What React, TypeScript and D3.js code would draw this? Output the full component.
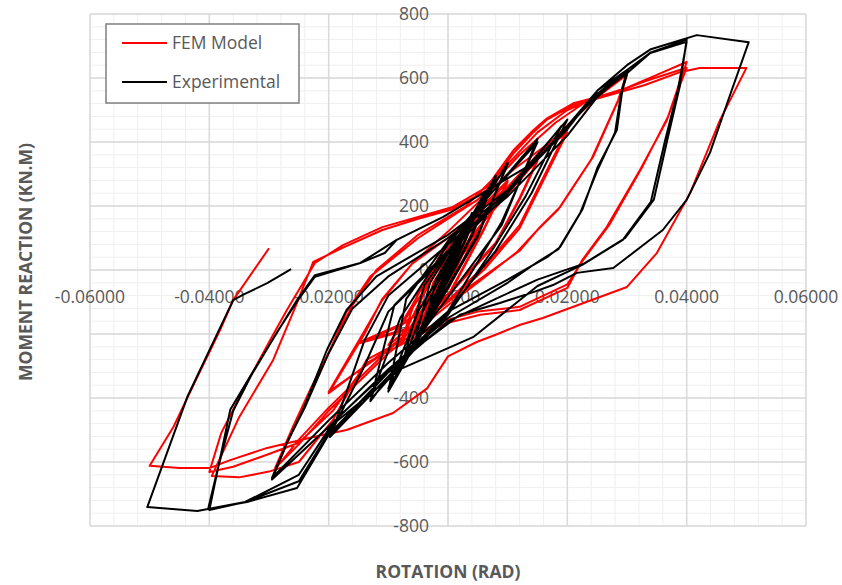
import React, { useEffect, useRef } from "react";
import * as d3 from "d3";

// x ticks (rad) and y ticks (kN.m)
const xTicks = [-0.06, -0.04, -0.02, 0, 0.02, 0.04, 0.06];
const yTicks = [-800, -600, -400, -200, 0, 200, 400, 600, 800];

// FEM model hysteresis path [rotation, moment]
const femPoints: [number, number][] = [
  [0, 0], [0.002, 75], [0.0008, 20], [-0.002, -70], [-0.0008, -15], [0.002, 78], [0.0008, 22], [-0.002, -72],
  [-0.001, -20], [0.001, 50], [0.004, 140], [0.0022, 60], [0, -20], [-0.004, -140], [-0.002, -60], [0, 20], [0.004, 145], [0.002, 55], [-0.004, -145],
  [-0.0025, -40], [0.002, 90], [0.006, 195], [0.0035, 90], [0, -50], [-0.006, -195], [-0.0035, -90], [0, 50], [0.006, 200], [0.0035, 95], [-0.006, -200],
  [-0.004, -60], [0.002, 110], [0.008, 235], [0.005, 120], [0, -60], [-0.008, -225], [-0.005, -110], [0, 70], [0.008, 240], [0.005, 115], [-0.008, -230],
  [-0.005, -70], [0.003, 140], [0.01, 275], [0.006, 130], [0, -80], [-0.01, -235], [-0.006, -110], [0, 90], [0.01, 280], [0.006, 125], [0, -85], [-0.01, -235],
  [-0.006, -120], [0, 50], [0.008, 220], [0.015, 340], [0.012, 220], [0.008, 80], [0, -80], [-0.008, -170], [-0.0147, -225],
  [-0.0064, -181], [-0.002, -60], [0.005, 130], [0.015, 345], [0.012, 225], [0.008, 85], [0, -75], [-0.008, -175], [-0.0147, -228],
  [-0.0064, -185], [0, 0], [0.008, 200], [0.015, 360], [0.02, 430], [0.016, 280], [0.012, 130], [0.006, 0], [0, -100], [-0.01, -250], [-0.02, -381],
  [-0.0142, -197], [-0.011, -94], [-0.006, 20], [0, 120], [0.01, 300], [0.02, 440], [0.016, 290], [0.012, 140], [0.006, 10], [0, -95], [-0.01, -245], [-0.02, -385],
  [-0.014, -200], [-0.011, -90], [-0.006, 20], [0, 100], [0.01, 260], [0.015, 360], [0.021, 470], [0.025, 540], [0.03, 610],
  [0.0288, 541], [0.0243, 353], [0.0188, 197], [0.0154, 134], [0.012, 60], [0.006, -20], [0, -100], [-0.01, -250], [-0.02, -430], [-0.025, -530], [-0.0287, -616],
  [-0.026, -500], [-0.023, -380], [-0.02, -260], [-0.017, -130], [-0.013, -20], [-0.005, 100], [0.005, 220], [0.012, 360], [0.018, 460], [0.025, 550], [0.03, 615],
  [0.0285, 530], [0.024, 345], [0.0185, 190], [0.015, 125], [0.0115, 55], [0.006, -25], [0, -110], [-0.01, -260], [-0.02, -440], [-0.025, -545], [-0.029, -620],
  [-0.026, -490], [-0.023, -370], [-0.0195, -240], [-0.016, -110], [-0.012, 0], [-0.005, 110], [0.003, 200], [0.01, 330], [0.015, 430], [0.02, 500], [0.025, 540], [0.03, 570], [0.035, 610], [0.04, 650],
  [0.0367, 469], [0.0322, 313], [0.0266, 134], [0.0225, 31], [0.02, -56], [0.012, -125], [0.0054, -140], [0, -165], [-0.0035, -190], [-0.0136, -290], [-0.0193, -440], [-0.025, -540], [-0.03, -575], [-0.036, -615], [-0.04, -631],
  [-0.038, -509], [-0.0337, -353], [-0.0298, -219], [-0.027, -125], [-0.0223, 22], [-0.0176, 78], [-0.011, 134], [0.0008, 197], [0.0065, 259], [0.011, 375], [0.0143, 437], [0.0166, 474], [0.021, 521], [0.0277, 553], [0.033, 590], [0.04, 632],
  [0.0369, 480], [0.0325, 320], [0.027, 140], [0.0228, 35], [0.02, -45], [0.012, -115], [0.005, -130], [0, -155], [-0.004, -185], [-0.0136, -280], [-0.0193, -469], [-0.025, -600], [-0.03, -630], [-0.035, -648], [-0.0396, -644],
  [-0.035, -460], [-0.0293, -281], [-0.0253, -103], [-0.0226, 25], [-0.0176, 70], [-0.011, 125], [-0.005, 160], [0.0008, 190], [0.0065, 250], [0.011, 365], [0.0143, 430], [0.0166, 470], [0.021, 515], [0.0277, 550], [0.033, 578], [0.039, 619], [0.0422, 631], [0.05, 631],
  [0.0456, 469], [0.0406, 241], [0.035, 53], [0.03, -53], [0.0159, -150], [0.012, -172], [0.0079, -203], [0.0048, -225], [0, -270], [-0.0035, -370], [-0.0092, -447], [-0.017, -500], [-0.0226, -522], [-0.0303, -556], [-0.0365, -594], [-0.04, -619], [-0.045, -619], [-0.05, -612],
  [-0.046, -490], [-0.042, -334], [-0.0382, -188], [-0.036, -94], [-0.03, 68],
];

// experimental hysteresis path [rotation, moment]
const expPoints: [number, number][] = [
  [0, 0], [0.002, 90], [0.001, 30], [-0.002, -95], [-0.001, -30], [0.002, 92], [0.001, 28], [-0.002, -98],
  [-0.0005, 0], [0.004, 175], [0.002, 80], [-0.004, -180], [-0.002, -80], [0.004, 178], [0.002, 75], [-0.004, -185],
  [-0.002, -30], [0.006, 235], [0.003, 100], [-0.006, -250], [-0.003, -110], [0.006, 240], [0.003, 95], [-0.006, -255],
  [-0.003, -40], [0.008, 290], [0.004, 110], [-0.008, -310], [-0.004, -120], [0.008, 295], [0.004, 105], [-0.008, -315],
  [-0.004, -50], [0.01, 330], [0.005, 110], [-0.01, -370], [-0.005, -130], [0.01, 335], [0.005, 105], [-0.01, -380],
  [-0.007, -90], [0, 90], [0.015, 400], [0.009, 150], [0, -130], [-0.013, -406], [-0.008, -150], [0, 80], [0.015, 410], [0.009, 140], [-0.013, -410],
  [-0.009, -110], [0, 60], [0.01, 250], [0.02, 470], [0.014, 240], [0.008, 60], [0, -130], [-0.01, -320], [-0.0198, -516],
  [-0.014, -300], [-0.01, -130], [0, 50], [0.01, 240], [0.019, 450], [0.013, 230], [0.007, 50], [0, -140], [-0.0198, -522],
  [-0.017, -380], [-0.014, -220], [-0.01, -80], [0, 80], [0.01, 230], [0.02, 420], [0.025, 540], [0.0302, 625],
  [0.0292, 560], [0.0283, 437], [0.0251, 322], [0.0225, 188], [0.0188, 72], [0.0166, 40], [0.01, -30], [0, -130], [-0.01, -290], [-0.02, -470], [-0.0295, -650],
  [-0.027, -540], [-0.0243, -437], [-0.0203, -250], [-0.017, -125], [-0.012, -20], [0, 110], [0.01, 250], [0.02, 440], [0.0251, 562], [0.03, 625],
  [0.029, 550], [0.028, 430], [0.025, 310], [0.0222, 180], [0.0185, 65], [0.015, 25], [0.01, -40], [0, -150], [-0.01, -310], [-0.02, -490], [-0.0295, -655],
  [-0.027, -540], [-0.024, -430], [-0.02, -260], [-0.016, -120], [-0.01, -20], [0, 100], [0.01, 240], [0.0143, 334], [0.02, 450], [0.025, 545], [0.03, 615], [0.0339, 678], [0.04, 713],
  [0.0385, 560], [0.0364, 406], [0.034, 213], [0.0293, 94], [0.0225, 16], [0.015, -50], [0.0042, -210], [-0.008, -310], [-0.019, -478], [-0.025, -660], [-0.034, -725], [-0.04, -750],
  [-0.0387, -634], [-0.0365, -437], [-0.0332, -334], [-0.0287, -197], [-0.0253, -94], [-0.0223, -16], [-0.0147, 22], [-0.0106, 53], [-0.0086, 94], [-0.0008, 166], [0.0087, 272], [0.0143, 334], [0.02, 445], [0.025, 550], [0.03, 625], [0.034, 680], [0.04, 720],
  [0.0388, 570], [0.0368, 410], [0.0345, 220], [0.0297, 100], [0.0228, 20], [0.015, -30], [0.008, -90], [0, -160], [-0.01, -320], [-0.02, -515], [-0.0253, -681], [-0.0337, -725], [-0.0402, -747],
  [-0.0387, -630], [-0.036, -440], [-0.033, -330], [-0.0285, -190], [-0.025, -90], [-0.0223, -21], [-0.0147, 22], [-0.0086, 94], [-0.0008, 166], [0.0087, 272], [0.0143, 334], [0.02, 450], [0.025, 560], [0.03, 640], [0.034, 690], [0.0417, 734], [0.0504, 712],
  [0.0468, 522], [0.0439, 366], [0.04, 219], [0.036, 125], [0.0277, 6], [0.0216, -9], [0.0176, -47], [0.0143, -69], [0.0087, -103], [0.002, -140], [-0.008, -280], [-0.019, -470], [-0.025, -640], [-0.034, -725], [-0.042, -753], [-0.0504, -741],
  [-0.0437, -397], [-0.036, -94], [-0.0344, -78], [-0.0303, -41], [-0.0263, 3],
];

const seriesNames = ["FEM Model", "Experimental"];
const seriesColors = ["#ff0000", "#000000"];

const W = 842, H = 585;
const margin = { left: 90, right: 36, top: 14, bottom: 59 };

export default function App() {
  const ref = useRef<SVGSVGElement>(null);

  useEffect(() => {
    const svg = d3.select(ref.current);
    svg.selectAll("*").remove();

    const x = d3.scaleLinear().domain([-0.06, 0.06]).range([margin.left, W - margin.right]);
    const y = d3.scaleLinear().domain([-800, 800]).range([H - margin.bottom, margin.top]);

    const font = '"Open Sans", "Liberation Sans", sans-serif';
    const g = svg.append("g");

    // minor grid
    g.selectAll(".xminor").data(d3.range(-0.06, 0.0601, 0.004)).enter().append("line")
      .attr("x1", d => x(d)).attr("x2", d => x(d))
      .attr("y1", y(800)).attr("y2", y(-800))
      .attr("stroke", "#efefef").attr("stroke-width", 1);
    g.selectAll(".yminor").data(d3.range(-800, 801, 40)).enter().append("line")
      .attr("x1", x(-0.06)).attr("x2", x(0.06))
      .attr("y1", d => y(d)).attr("y2", d => y(d))
      .attr("stroke", "#efefef").attr("stroke-width", 1);

    // major grid
    g.selectAll(".xmajor").data(xTicks).enter().append("line")
      .attr("x1", d => x(d)).attr("x2", d => x(d))
      .attr("y1", y(800)).attr("y2", y(-800))
      .attr("stroke", "#d9d9d9").attr("stroke-width", 1.5);
    g.selectAll(".ymajor").data(yTicks).enter().append("line")
      .attr("x1", x(-0.06)).attr("x2", x(0.06))
      .attr("y1", d => y(d)).attr("y2", d => y(d))
      .attr("stroke", "#d9d9d9").attr("stroke-width", 1.5);

    // tick labels
    g.selectAll(".xlab").data(xTicks).enter().append("text")
      .attr("x", d => x(d)).attr("y", y(0) + 33)
      .attr("text-anchor", "middle")
      .style("font-family", font).style("font-size", "17.5px").attr("fill", "#595959")
      .text(d => d.toFixed(5));
    g.selectAll(".ylab").data(yTicks).enter().append("text")
      .attr("x", x(0) - 19).attr("y", d => y(d) + 6)
      .attr("text-anchor", "end")
      .style("font-family", font).style("font-size", "17.5px").attr("fill", "#595959")
      .text(d => d);

    // series
    const line = d3.line<[number, number]>().x(d => x(d[0])).y(d => y(d[1]));
    [femPoints, expPoints].forEach((pts, i) => {
      g.append("path").datum(pts)
        .attr("d", line)
        .attr("fill", "none")
        .attr("stroke", seriesColors[i])
        .attr("stroke-width", 2)
        .attr("stroke-linejoin", "round");
    });

    // axis titles
    g.append("text")
      .attr("x", x(0)).attr("y", 578)
      .attr("text-anchor", "middle")
      .style("font-family", font).style("font-size", "17.5px").style("font-weight", "bold")
      .attr("fill", "#595959")
      .text("ROTATION (RAD)");
    g.append("text")
      .attr("transform", `translate(32, ${y(0) - 8}) rotate(-90)`)
      .attr("text-anchor", "middle")
      .style("font-family", font).style("font-size", "17.5px").style("font-weight", "bold")
      .attr("fill", "#595959")
      .text("MOMENT REACTION (KN.M)");

    // legend
    const lg = g.append("g").attr("transform", "translate(106, 24)");
    lg.append("rect").attr("width", 193).attr("height", 79)
      .attr("fill", "#ffffff").attr("stroke", "#7f7f7f").attr("stroke-width", 1.5);
    seriesNames.forEach((name, i) => {
      const yy = 19 + i * 39;
      lg.append("line").attr("x1", 16).attr("x2", 61).attr("y1", yy).attr("y2", yy)
        .attr("stroke", seriesColors[i]).attr("stroke-width", 2);
      lg.append("text").attr("x", 66).attr("y", yy + 6)
        .style("font-family", font).style("font-size", "17.5px").attr("fill", "#595959")
        .text(name);
    });
  }, []);

  return (
    <svg ref={ref} width={W} height={H}
      style={{ position: "absolute", left: 0, top: 0, background: "#ffffff" }} />
  );
}
